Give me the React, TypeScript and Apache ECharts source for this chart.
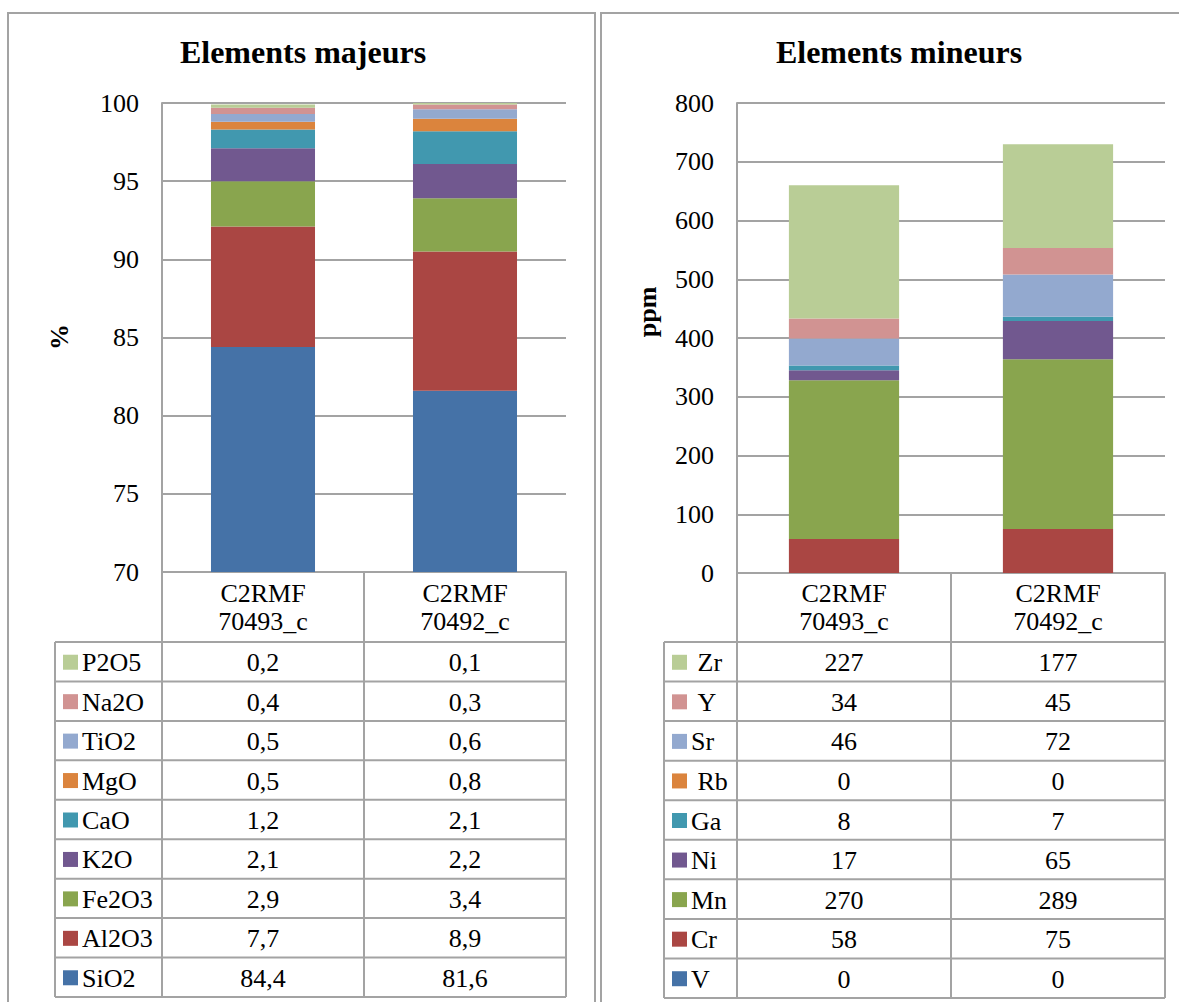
import React, { useEffect, useRef } from "react";
import * as echarts from "echarts";

// ---------- data ----------
const categories = ["C2RMF\n70493_c", "C2RMF\n70492_c"];

const majorTitle = "Elements majeurs";
const majorUnit = "%";
const majorNames = ["SiO2", "Al2O3", "Fe2O3", "K2O", "CaO", "MgO", "TiO2", "Na2O", "P2O5"];
const major70493 = [84.4, 7.7, 2.9, 2.1, 1.2, 0.5, 0.5, 0.4, 0.2];
const major70492 = [81.6, 8.9, 3.4, 2.2, 2.1, 0.8, 0.6, 0.3, 0.1];
const majorAxis = { min: 70, max: 100, interval: 5 };

const minorTitle = "Elements mineurs";
const minorUnit = "ppm";
const minorNames = ["V", "Cr", "Mn", "Ni", "Ga", "Rb", "Sr", "Y", "Zr"];
const minorKeyLabels = ["V", "Cr", "Mn", "Ni", "Ga", "\u00a0Rb", "Sr", "\u00a0Y", "\u00a0Zr"];
const minor70493 = [0, 58, 270, 17, 8, 0, 46, 34, 227];
const minor70492 = [0, 75, 289, 65, 7, 0, 72, 45, 177];
const minorAxis = { min: 0, max: 800, interval: 100 };

const seriesColors = [
  "#4572A7", "#AA4643", "#89A54E", "#71588F", "#4198AF",
  "#DB843D", "#93A9CF", "#D19392", "#B9CD96",
];

// ---------- styles / layout ----------
const W = 1179;
const H = 1002;
const FONT = "Liberation Serif";
const GRID = "#a3a3a3";
const FS = 26;

const LEFT = {
  boxX: 8, boxW: 587,
  plotLeft: 162, plotRight: 566, plotTop: 103, plotBottom: 572,
  keyLeft: 55, headerBottom: 642, tableBottom: 997,
  titleX: 303, unitX: 59, unitY: 337,
};
const RIGHT = {
  boxX: 601, boxW: 620,
  plotLeft: 737, plotRight: 1165, plotTop: 103, plotBottom: 573,
  keyLeft: 664, headerBottom: 642, tableBottom: 998,
  titleX: 899, unitX: 647, unitY: 312,
};

const fmtComma = (v: number) => String(v).replace(".", ",");

function line(x1: number, y1: number, x2: number, y2: number) {
  return {
    type: "line",
    silent: true,
    shape: { x1, y1, x2, y2 },
    style: { stroke: GRID, lineWidth: 2 },
  };
}

function txt(x: number, y: number, text: string, opts: any = {}) {
  return {
    type: "text", silent: true, x, y,
    rotation: opts.rotation || 0,
    style: {
      text,
      fontFamily: FONT,
      fontSize: opts.fontSize || FS,
      fontWeight: opts.bold ? "bold" : "normal",
      fill: "#000",
      lineHeight: opts.lineHeight,
      textAlign: opts.align || "center",
      textVerticalAlign: "middle",
    },
  };
}

function panelGraphics(L: any, title: string, unit: string, keyLabels: string[],
  valsA: number[], valsB: number[], fmt: (v: number) => string) {
  const els: any[] = [];
  els.push({
    type: "rect", silent: true,
    shape: { x: L.boxX, y: 13, width: L.boxW, height: 1010 },
    style: { fill: "none", stroke: GRID, lineWidth: 2 },
  });
  els.push(txt(L.titleX, 52, title, { fontSize: 32, bold: true }));
  els.push(txt(L.unitX, L.unitY, unit, { bold: true, rotation: Math.PI / 2 }));

  const colW = (L.plotRight - L.plotLeft) / 2;
  const n = keyLabels.length;
  const rowH = (L.tableBottom - L.headerBottom) / n;
  els.push(line(L.plotLeft, L.plotBottom, L.plotLeft, L.tableBottom));
  els.push(line(L.plotLeft + colW, L.plotBottom, L.plotLeft + colW, L.tableBottom));
  els.push(line(L.plotRight, L.plotBottom, L.plotRight, L.tableBottom));
  els.push(line(L.keyLeft, L.headerBottom, L.keyLeft, L.tableBottom));
  for (let i = 0; i <= n; i++) {
    const y = L.headerBottom + i * rowH;
    els.push(line(L.keyLeft, y, L.plotRight, y));
  }
  categories.forEach((c, j) => {
    els.push(txt(L.plotLeft + colW * (j + 0.5), (L.plotBottom + L.headerBottom) / 2, c, { lineHeight: 28 }));
  });
  for (let r = 0; r < n; r++) {
    const idx = n - 1 - r;
    const cy = L.headerBottom + (r + 0.5) * rowH;
    els.push({
      type: "rect", silent: true,
      shape: { x: L.keyLeft + 8, y: cy - 7, width: 15, height: 15 },
      style: { fill: seriesColors[idx] },
    });
    els.push(txt(L.keyLeft + 27, cy + 1, keyLabels[idx], { align: "left" }));
    [valsA, valsB].forEach((vals, j) => {
      els.push(txt(L.plotLeft + colW * (j + 0.5), cy + 1, fmt(vals[idx])));
    });
  }
  return els;
}

function gridFor(L: any) {
  return {
    left: L.plotLeft,
    right: W - L.plotRight,
    top: L.plotTop,
    height: L.plotBottom - L.plotTop,
    containLabel: false,
  };
}

function xAxisFor(gridIndex: number) {
  return {
    type: "category",
    gridIndex,
    data: categories,
    axisLabel: { show: false },
    axisTick: { show: false },
    axisLine: { show: true, lineStyle: { color: GRID, width: 2 } },
    splitLine: { show: false },
  };
}

function yAxisFor(gridIndex: number, ax: { min: number; max: number; interval: number }) {
  return {
    type: "value",
    gridIndex,
    min: ax.min,
    max: ax.max,
    interval: ax.interval,
    axisLabel: {
      fontFamily: FONT, fontSize: FS, color: "#000", margin: 23,
    },
    axisTick: { show: false },
    axisLine: { show: true, lineStyle: { color: GRID, width: 2 } },
    splitLine: { show: true, lineStyle: { color: GRID, width: 2 } },
  };
}

function seriesFor(names: string[], a: number[], b: number[], idx: number, stack: string) {
  return names.map((name, i) => ({
    name,
    type: "bar",
    stack,
    xAxisIndex: idx,
    yAxisIndex: idx,
    barWidth: "51.5%",
    itemStyle: { color: seriesColors[i] },
    emphasis: { disabled: true },
    data: [a[i], b[i]],
  }));
}

export default function App() {
  const ref = useRef<HTMLDivElement>(null);
  useEffect(() => {
    if (!ref.current) return;
    const chart = echarts.init(ref.current, null, { renderer: "svg", width: W, height: H });
    const option: any = {
      animation: false,
      backgroundColor: "#fff",
      textStyle: { fontFamily: FONT },
      grid: [gridFor(LEFT), gridFor(RIGHT)],
      xAxis: [xAxisFor(0), xAxisFor(1)],
      yAxis: [yAxisFor(0, majorAxis), yAxisFor(1, minorAxis)],
      series: [
        ...seriesFor(majorNames, major70493, major70492, 0, "maj"),
        ...seriesFor(minorNames, minor70493, minor70492, 1, "min"),
      ],
      graphic: [
        ...panelGraphics(LEFT, majorTitle, majorUnit, majorNames, major70493, major70492, fmtComma),
        ...panelGraphics(RIGHT, minorTitle, minorUnit, minorKeyLabels, minor70493, minor70492, (v) => String(v)),
      ],
    };
    chart.setOption(option);
    return () => chart.dispose();
  }, []);
  return (
    <div
      ref={ref}
      style={{ position: "absolute", left: 0, top: 0, width: W, height: H, overflow: "hidden", background: "#fff" }}
    />
  );
}
